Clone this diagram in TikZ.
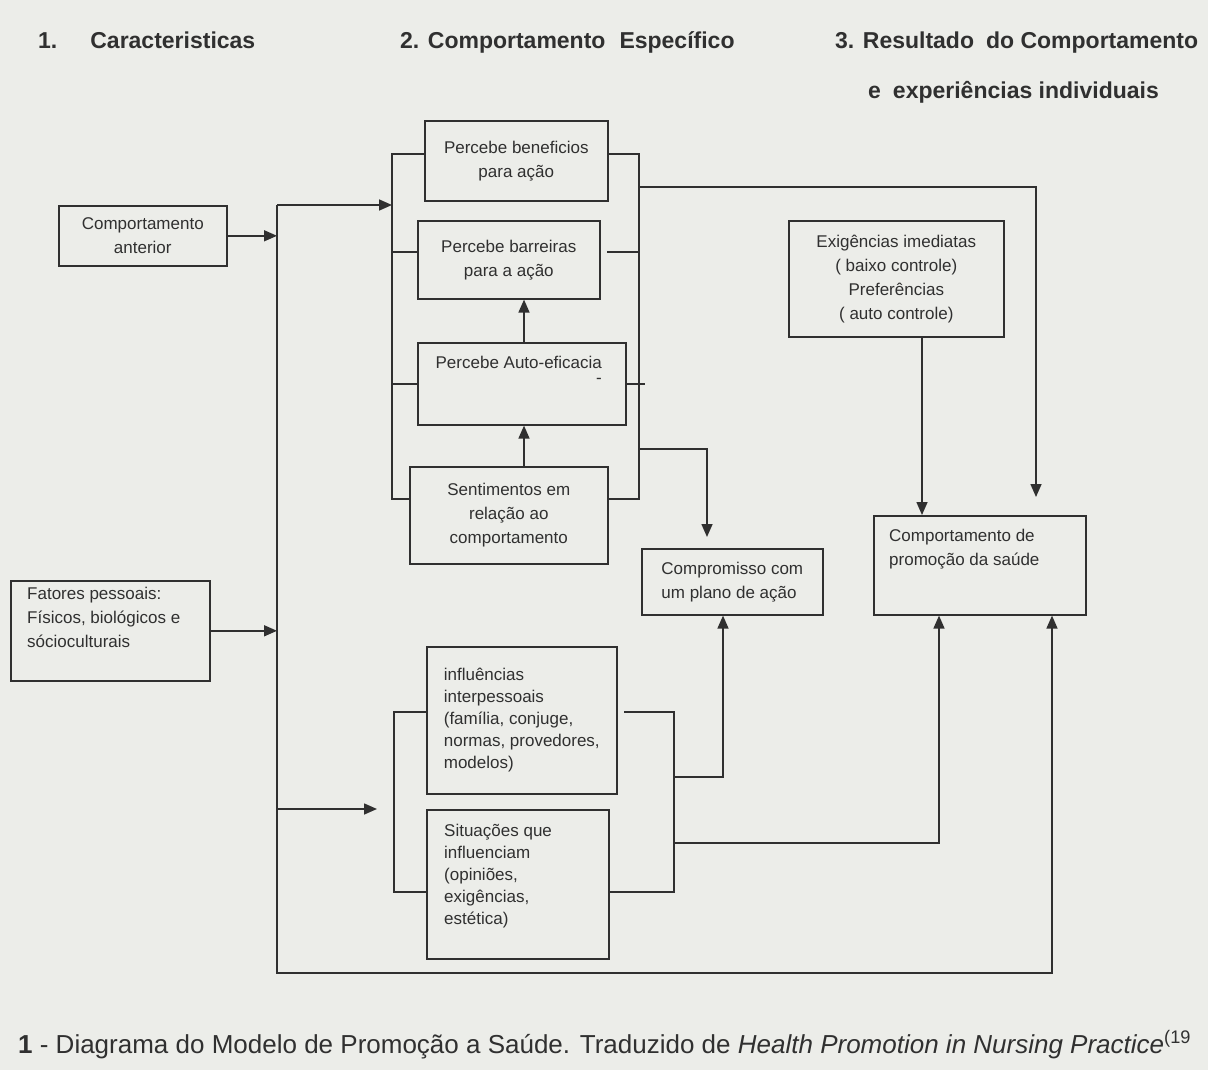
\documentclass[tikz,border=0pt]{standalone}
\usepackage{fontspec}
\setmainfont{Liberation Sans}
\usetikzlibrary{arrows.meta}
\definecolor{paper}{RGB}{236,237,233}
\definecolor{ink}{RGB}{48,48,48}
\begin{document}
\begin{tikzpicture}[x=1pt,y=-1pt,
  box/.style={draw=ink, line width=1.6pt, inner sep=0pt, anchor=north west, align=center,
    font=\fontsize{17}{24}\selectfont, text=ink},
  lab/.style={inner sep=0pt, align=left, anchor=north west, font=\fontsize{17}{24}\selectfont, text=ink},
  hdr/.style={font=\bfseries\fontsize{23}{26}\selectfont, text=ink, inner sep=0pt, anchor=base west},
  conn/.style={draw=ink, line width=1.6pt},
  arr/.style={conn, -{Triangle[length=13pt,width=11pt]}},
]
\fill[paper] (0,0) rectangle (1208,1070);
\useasboundingbox (0,0) rectangle (1208,1070);

% headers
\node[hdr] (h1) at (38,49) {1.\hspace{33pt}Caracteristicas};
\node[hdr] (h2) at (400,49) {2. Comportamento\hspace{14pt}Específico};
\node[hdr] (h3) at (835,49) {3. Resultado\hspace{12pt}do Comportamento};
\node[hdr] (h3b) at (868,99) {e\hspace{12pt}experiências individuais};

% left column
\node[box, minimum width=168pt, minimum height=60pt] (ant) at (58,205) {Comportamento\\anterior};
\node[box, minimum width=199pt, minimum height=100pt] (fat) at (10,580) {};
\node[lab] (fatt) at ([xshift=17pt,yshift=-7pt]fat.north west) {Fatores pessoais:\\Físicos, biológicos e\\sócioculturais};

% central column (upper)
\node[box, minimum width=183pt, minimum height=80pt] (ben) at (424,120) {Percebe beneficios\\para ação};
\node[box, minimum width=182pt, minimum height=78pt] (bar) at (417,220) {Percebe barreiras\\para a ação};
\node[box, minimum width=208pt, minimum height=82pt] (auto) at (417,342) {};
\node[lab, anchor=north] (autot) at ([xshift=-3pt,yshift=-14pt]auto.north) {Percebe Auto-eficacia};
\node[inner sep=0pt, text=ink, font=\fontsize{17}{20}\selectfont] (dash) at (599,381) {-};
\node[box, minimum width=198pt, minimum height=97pt] (sent) at (409,466) {Sentimentos em\\relação ao\\comportamento};

% central column (lower)
\node[box, align=left, minimum width=190pt, minimum height=147pt, font=\fontsize{17}{22}\selectfont] (infl) at (426,646)
  {influências\\interpessoais\\(família, conjuge,\\normas, provedores,\\modelos)};
\node[box, minimum width=182pt, minimum height=149pt] (sit) at (426,809) {};
\node[lab, font=\fontsize{17}{22}\selectfont] (sitt) at ([xshift=18pt,yshift=-15pt]sit.north west)
  {Situações que\\influenciam\\(opiniões,\\exigências,\\estética)};

% right side
\node[box, align=left, minimum width=181pt, minimum height=66pt] (comp) at (641,548) {Compromisso com\\um plano de ação};
\node[box, minimum width=215pt, minimum height=116pt] (exig) at (788,220)
  {Exigências imediatas\\( baixo controle)\\Preferências\\( auto controle)};
\node[box, minimum width=212pt, minimum height=99pt] (prom) at (873,515) {};
\node[lab] (promt) at ([xshift=16pt,yshift=-14pt]prom.north west) {Comportamento de\\promoção da saúde};

% caption
\node[anchor=base west, inner sep=0pt, font=\fontsize{26}{30}\selectfont, text=ink] (cap) at (18,1053)
  {\textbf{1} - Diagrama do Modelo de Promoção a Saúde. Traduzido de \textit{Health Promotion in Nursing Practice}\textsuperscript{(19}};

% left spine
\coordinate (spT) at (277,205);
\coordinate (spB) at (277,973);
\draw[arr] (ant.east) -- (ant.east -| spT);
\draw[arr] (fat.east) -- (fat.east -| spT);
\draw[arr] (spT) -- (392,205);
\draw[arr] (277,809) -- (377,809);
\draw[arr] (spT) -- (spB) -- (1052,973) -- (1052,0 |- prom.south);

% upper bracket
\draw[conn] (ben.west |- 0,154) -- (392,154) -- (392,499) -- (sent.west |- 0,499);
\draw[conn] (bar.west |- 0,252) -- (392,252);
\draw[conn] (auto.west) -- (392,0 |- auto.west);
\draw[conn] (ben.east |- 0,154) -- (639,154) -- (639,499) -- (sent.east |- 0,499);
\draw[conn] (607,252) -- (639,252);
\draw[conn] (auto.east) -- (645,0 |- auto.east);
\draw[arr] (524,0 |- auto.north) -- (524,0 |- bar.south);
\draw[arr] (524,0 |- sent.north) -- (524,0 |- auto.south);

% outputs of upper bracket
\coordinate (promIn) at (1036,497);
\draw[arr] (639,187) -- (1036,187) -- (promIn);
\coordinate (compIn) at (707,537);
\draw[arr] (639,449) -- (707,449) -- (compIn);
\draw[arr] (922,0 |- exig.south) -- (922,0 |- prom.north);

% lower bracket
\draw[conn] (infl.west |- 0,712) -- (394,712) -- (394,892) -- (sit.west |- 0,892);
\draw[conn] (624,712) -- (674,712) -- (674,892) -- (sit.east |- 0,892);
\draw[arr] (674,777) -- (723,777) -- (723,0 |- comp.south);
\draw[arr] (674,843) -- (939,843) -- (939,0 |- prom.south);
\end{tikzpicture}
\end{document}
